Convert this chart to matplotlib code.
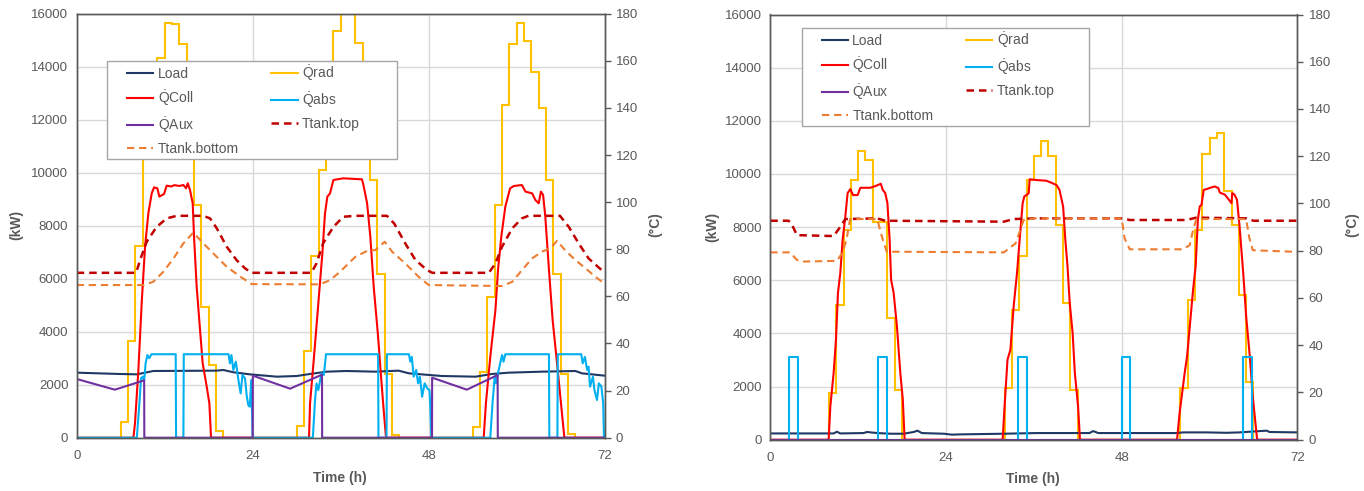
import numpy as np
import matplotlib.pyplot as plt
from matplotlib.lines import Line2D
from matplotlib.patches import Rectangle

plt.rcParams['font.family'] = 'Liberation Sans'
plt.rcParams['mathtext.fontset'] = 'custom'
plt.rcParams['mathtext.rm'] = 'Liberation Sans'
plt.rcParams['mathtext.it'] = 'Liberation Sans:italic'
plt.rcParams['mathtext.bf'] = 'Liberation Sans:bold'

W, H = 1364, 491
hours = np.arange(0, 73)

# ---------------- left chart ----------------
a_qrad = [0, 0, 0, 0, 0, 0, 580, 3660, 7240, 11200, 13300, 14340, 15650, 15600,
          14850, 12400, 8800, 4940, 2740, 250, 0, 0, 0, 0,
          0, 0, 0, 0, 0, 0, 430, 3280, 6870, 10100, 12800, 15350, 16300, 16300,
          14900, 12000, 9720, 6170, 2420, 100, 0, 0, 0, 0,
          0, 0, 0, 0, 0, 0, 390, 2480, 5300, 8780, 12560, 14850, 15650, 14960,
          13800, 12450, 9720, 6170, 2400, 150, 0, 0, 0, 0]

a_load_t = [0, 5.9, 8.2, 10.45, 19.1, 20.0, 21.4, 23.6, 27.3, 30.0, 31.8, 34.1, 36.8, 40.7,
            43.9, 45.3, 49.8, 54.4, 56.6, 58.9, 63.45, 68.0, 68.9, 72]
a_load = [2454, 2404, 2391, 2517, 2530, 2555, 2467, 2391, 2303, 2328, 2404, 2492, 2517, 2492,
          2530, 2429, 2328, 2303, 2404, 2454, 2492, 2517, 2429, 2341]

a_coll_t = [0, 7.73, 7.95, 8.41, 8.86, 9.32, 9.77, 10.23, 10.55, 11.0, 11.27, 11.91, 12.27,
            12.9, 13.3, 14.0, 14.55, 14.91, 15.14, 15.45, 15.82, 16.0, 16.36, 16.82, 17.18,
            17.73, 18.09, 18.32,
            31.68, 31.82, 32.36, 32.95, 33.5, 33.86, 34.18, 34.55, 35.0, 36.36, 38.9, 39.1,
            39.6, 40.04, 40.5, 41.1, 41.5, 41.86, 42.18,
            55.5, 55.8, 56.4, 57.1, 57.45, 57.9, 58.45, 59.1, 59.6, 60.7, 61.2, 62.1, 62.55,
            63.0, 63.3, 63.6, 63.9, 64.4, 64.9, 65.5, 65.95, 66.5, 72]
a_coll = [0, 0, 540, 2557, 5072, 7210, 8467, 9222, 9448, 9410, 9097, 9197, 9511,
          9480, 9530, 9500, 9536, 9410, 9600, 9348, 8845, 7587, 5700, 4065, 2807,
          1925, 1296, 0,
          0, 1296, 3057, 5072, 6960, 8467, 9097, 9222, 9725, 9788, 9750, 9536,
          8845, 7587, 5700, 3813, 2303, 1045, 0,
          0, 1296, 3057, 4820, 6330, 7587, 8720, 9410, 9498, 9536, 9285, 9222, 8970,
          8845, 9285, 9160, 8342, 6330, 4443, 2807, 1548, 0, 0]

a_abs_t = [0, 8.2, 8.55, 8.77, 9.0, 9.2, 9.4, 9.64, 9.9, 10.2, 13.5, 13.55, 14.55, 14.6,
           20.7, 20.9, 21.1, 21.36, 21.7, 22.05, 22.36, 22.6, 22.95, 23.2, 23.4, 23.6, 23.8, 24.0,
           32.2, 32.5, 32.7, 32.95, 33.2, 33.4, 33.7, 34.0, 41.1, 41.15, 42.25, 42.3,
           45.3, 45.5, 45.7, 45.95, 46.3, 46.55, 46.8, 47.1, 47.45, 47.8, 48.1, 48.2, 48.36,
           56.4, 56.7, 57.0, 57.2, 57.5, 57.8, 58.0, 58.2, 58.45, 64.4, 64.45, 65.55, 65.6,
           68.8, 69.0, 69.3, 69.6, 69.8, 70.0, 70.4, 70.6, 70.95, 71.2, 71.55, 71.8, 71.9, 72]
a_abs = [0, 0, 1296, 2240, 2303, 2152, 2807, 3120, 3000, 3150, 3150, 0, 0, 3150,
         3150, 2807, 3120, 2555, 2870, 2177, 1673, 2366, 2240, 1547, 1233, 1170, 2177, 0,
         0, 1422, 2052, 1800, 2177, 2430, 2370, 3150, 3150, 0, 0, 3150,
         3150, 2870, 3050, 2303, 2555, 2052, 2303, 1547, 2052, 1863, 1800, 1296, 0,
         0, 1296, 2303, 2052, 2500, 2870, 3120, 2870, 3150, 3150, 0, 0, 3150,
         3150, 2807, 3050, 2555, 2680, 1925, 2303, 1800, 1422, 2052, 1925, 1296, 0, 0]

a_aux_t = [0, 5.2, 9.2, 9.22, 24.0, 24.02, 29.1, 33.45, 33.47, 48.45, 48.47, 53.2, 57.4, 57.42, 72]
a_aux = [2215, 1812, 2164, 0, 0, 2341, 1850, 2379, 0, 0, 2265, 1812, 2366, 0, 0]

a_top_t = [0, 8.1, 8.64, 9.55, 10.9, 12.27, 13.64, 17.27, 18.18, 19.1, 20.45, 21.8, 22.95, 23.86,
           32.0, 32.7, 33.6, 35.0, 36.36, 38.0, 42.3, 43.3, 44.8, 46.2, 47.8, 48.5,
           56.2, 57.1, 58.0, 59.4, 60.7, 61.6, 65.9, 67.1, 68.45, 69.8, 71.6, 72]
a_top = [70.0, 70.0, 75.4, 83.2, 89.5, 93.1, 94.2, 94.2, 93.1, 88.9, 81.1, 75.4, 71.9, 70.0,
         70.0, 74.0, 82.5, 89.5, 93.8, 94.2, 94.2, 90.9, 82.5, 75.4, 71.1, 70.0,
         70.0, 74.0, 81.1, 88.9, 93.1, 94.2, 94.2, 89.5, 82.5, 76.1, 71.1, 70.3]

a_bot_t = [0, 9.1, 10.45, 11.8, 13.2, 14.55, 15.9, 17.05, 18.6, 20.45, 22.3, 23.86,
           33.2, 34.55, 35.9, 38.0, 39.8, 40.7, 42.0, 43.0, 44.8, 46.6, 48.0,
           58.0, 59.4, 60.7, 62.1, 63.45, 64.6, 65.5, 66.6, 68.0, 69.4, 70.7, 72]
a_bot = [64.8, 64.8, 66.2, 70.4, 76.1, 82.5, 87.1, 83.2, 78.3, 72.6, 68.4, 65.2,
         65.1, 66.9, 70.4, 76.8, 79.6, 79.6, 83.2, 79.0, 74.0, 68.4, 64.8,
         64.4, 66.2, 71.1, 76.1, 79.0, 80.4, 83.6, 79.6, 75.4, 71.9, 68.4, 65.3]

# ---------------- right chart ----------------
b_qrad = [0, 0, 0, 0, 0, 0, 0, 0, 1770, 5070, 7900, 9770, 10870, 10530, 8200, 8200,
          4570, 1870, 0, 0, 0, 0, 0, 0,
          0, 0, 0, 0, 0, 0, 0, 0, 1940, 4880, 6920, 9770, 10670, 11250, 10670, 8080,
          5130, 1880, 0, 0, 0, 0, 0, 0,
          0, 0, 0, 0, 0, 0, 0, 0, 1930, 5260, 7890, 10750, 11340, 11550, 9370, 8080,
          5440, 2180, 0, 0, 0, 0, 0, 0]

b_load_t = [0, 8.65, 9.1, 9.56, 12.75, 13.2, 14.6, 16.4, 18.2, 19.6, 20.1, 20.7, 23.7, 24.8,
            26.0, 31.9, 36.4, 43.6, 44.1, 44.8, 55.5, 56.4, 59.6, 62.3, 64.1, 67.8, 68.2, 72]
b_load = [236, 236, 300, 236, 250, 290, 250, 225, 225, 290, 340, 250, 225, 190,
          200, 225, 250, 250, 325, 250, 250, 275, 275, 260, 275, 340, 290, 275]

b_coll_t = [0, 7.97, 8.2, 8.65, 8.97, 9.24, 9.56, 9.88, 10.25, 10.56, 10.93, 11.3, 11.93,
            12.3, 13.66, 14.34, 15.1, 15.35, 15.7, 16.0, 16.3, 16.5, 16.85, 17.3, 17.76,
            18.1, 18.35,
            31.74, 32.0, 32.4, 32.8, 33.24, 33.7, 34.06, 34.47, 34.7, 35.06, 35.3, 35.43,
            36.4, 37.7, 38.4, 39.1, 39.5, 40.0, 40.3, 40.6, 40.9, 41.3, 41.6, 42.04, 42.3,
            55.56, 55.9, 56.3, 56.6, 56.93, 57.3, 57.75, 58.1, 58.4, 58.66, 58.9, 59.2,
            59.6, 60.0, 60.7, 61.2, 61.4, 62.1, 62.5, 63.0, 63.1, 63.4, 63.75, 64.1, 64.6,
            65.0, 65.5, 65.9, 66.5, 72]
b_coll = [0, 0, 1254, 2508, 3762, 5518, 6270, 7524, 8402, 9280, 9430, 9205, 9205,
          9480, 9480, 9543, 9630, 9405, 9280, 8900, 7524, 6020, 5518, 4263, 2508,
          1505, 0,
          0, 1254, 3010, 3386, 5016, 6270, 7524, 8900, 9155, 9220, 9280, 9800,
          9770, 9745, 9670, 9580, 9400, 8770, 7524, 6520, 5140, 4010, 2508, 1254, 0,
          0, 980, 1855, 2508, 3135, 4263, 5643, 6520, 8276, 8776, 8840, 9400,
          9430, 9470, 9530, 9470, 9300, 9220, 9080, 8900, 9280, 9220, 9030, 8030, 6270,
          4640, 3135, 1630, 0, 0]

b_abs_t = [0, 2.6, 2.6, 3.85, 3.85, 14.7, 14.7, 16.0, 16.0, 33.9, 33.9, 35.06, 35.06,
           48.0, 48.0, 49.1, 49.1, 64.6, 64.6, 65.85, 65.85, 72]
b_abs = [0, 0, 3130, 3130, 0, 0, 3130, 3130, 0, 0, 3130, 3130, 0,
         0, 3130, 3130, 0, 0, 3130, 3130, 0, 0]

b_aux_t = [0, 72]
b_aux = [0, 0]

b_top_t = [0, 2.5, 2.96, 3.64, 8.65, 9.33, 10.25, 14.6, 15.7, 31.9, 33.2, 36.0, 48.2, 49.1,
           56.8, 58.2, 65.0, 66.0, 72]
b_top = [92.7, 92.7, 91.0, 86.6, 86.2, 89.1, 93.4, 93.7, 92.7, 92.3, 93.4, 93.7, 93.7, 93.0,
         93.0, 94.0, 93.7, 92.7, 92.7]

b_bot_t = [0, 2.7, 3.64, 4.3, 9.1, 9.8, 10.4, 10.9, 14.6, 15.25, 15.9, 31.9, 33.5, 34.15,
           34.6, 36.0, 48.0, 48.4, 49.1, 56.4, 57.3, 57.75, 58.2, 65.0, 65.4, 65.9, 72]
b_bot = [79.3, 79.3, 76.1, 75.4, 75.7, 78.9, 84.5, 93.4, 93.4, 85.9, 79.6, 79.3, 83.1, 88.8,
         93.0, 93.7, 93.7, 85.2, 80.6, 80.6, 82.4, 88.8, 93.4, 93.4, 85.9, 80.2, 79.5]

labels = ['Load', r'$\dot{\mathrm{Q}}$Coll', r'$\dot{\mathrm{Q}}$Aux', 'Ttank.bottom',
          r'$\dot{\mathrm{Q}}$rad', r'$\dot{\mathrm{Q}}$abs', 'Ttank.top']

C_LOAD, C_RAD, C_COLL = '#1F3864', '#FFC000', '#FF0000'
C_ABS, C_AUX = '#00B0F0', '#7030A0'
C_TOP, C_BOT = '#C00000', '#ED7D31'
GREY = '#595959'
LW = 1.5


def fx(px):
    return px / W


def fy(py):
    return 1 - py / H


def panel(rect, qrad, load_t, load, coll_t, coll, abs_t, qabs, aux_t, aux,
          top_t, top, bot_t, bot):
    ax = fig.add_axes(rect)
    ax.plot(load_t, load, color=C_LOAD, lw=LW)
    ax.stairs(qrad, hours, baseline=None, color=C_RAD, lw=LW)
    ax.plot(coll_t, coll, color=C_COLL, lw=LW)
    ax.plot(abs_t, qabs, color=C_ABS, lw=LW)
    ax.plot(aux_t, aux, color=C_AUX, lw=LW)
    ax.set_xlim(0, 72)
    ax.set_ylim(0, 16000)
    ax.set_xticks([0, 24, 48, 72])
    ax.set_yticks(range(0, 16001, 2000))
    ax.grid(color='#D9D9D9', lw=1)
    ax.set_axisbelow(True)
    ax.tick_params(axis='x', length=0, pad=9, labelsize=9.5, labelcolor=GREY)
    ax.tick_params(axis='y', length=0, pad=6, labelsize=9.5, labelcolor=GREY)
    for s in ax.spines.values():
        s.set_color(GREY)
        s.set_linewidth(1)

    ax2 = ax.twinx()
    ax2.plot(top_t, top, color=C_TOP, lw=1.8, dashes=(3, 2))
    ax2.plot(bot_t, bot, color=C_BOT, lw=1.5, dashes=(3.5, 2.3))
    ax2.set_ylim(0, 180)
    ax2.set_yticks(range(0, 181, 20))
    ax2.tick_params(axis='y', length=4, width=1, color=GREY, pad=4,
                    labelsize=9.5, labelcolor=GREY)
    for s in ax2.spines.values():
        s.set_color(GREY)
        s.set_linewidth(1)
    return ax


def legend(frame, first):
    x0, y0, x1, y1 = frame
    fig.add_artist(Rectangle((fx(x0), fy(y1)), fx(x1) - fx(x0), fy(y0) - fy(y1),
                             transform=fig.transFigure, facecolor='white',
                             edgecolor='#A6A6A6', lw=1, zorder=3))
    handles = [Line2D([], [], color=C_LOAD, lw=LW),
               Line2D([], [], color=C_COLL, lw=LW),
               Line2D([], [], color=C_AUX, lw=LW),
               Line2D([], [], color=C_BOT, lw=1.5, dashes=(3.5, 2.3)),
               Line2D([], [], color=C_RAD, lw=LW),
               Line2D([], [], color=C_ABS, lw=LW),
               Line2D([], [], color=C_TOP, lw=1.8, dashes=(3, 2))]
    lg = fig.legend(handles, labels, ncol=2, loc='upper left',
                    bbox_to_anchor=(fx(first[0]), fy(first[1])), frameon=False,
                    fontsize=10, handlelength=1.9, handletextpad=0.3,
                    columnspacing=2.35, labelspacing=0.52, borderpad=0, borderaxespad=0)
    for t in lg.get_texts():
        t.set_color(GREY)
    lg.set_zorder(4)


fig = plt.figure(figsize=(W / 100, H / 100), dpi=100)

panel([fx(76.7), fy(437.7), fx(528), 424 / H], a_qrad, a_load_t, a_load, a_coll_t, a_coll,
      a_abs_t, a_abs, a_aux_t, a_aux, a_top_t, a_top, a_bot_t, a_bot)
panel([fx(770.3), fy(439.7), fx(527.1), 425.2 / H], b_qrad, b_load_t, b_load, b_coll_t, b_coll,
      b_abs_t, b_abs, b_aux_t, b_aux, b_top_t, b_top, b_bot_t, b_bot)

legend((107.3, 61, 396.7, 159), (127, 63))
legend((802.3, 28.3, 1089.3, 126), (821.7, 30.5))

kw = dict(fontsize=10, fontweight='bold', color=GREY, ha='center', va='center')
fig.text(fx(16), fy(225), '(kW)', rotation=90, **kw)
fig.text(fx(655), fy(225), '(°C)', rotation=90, **kw)
fig.text(fx(340), fy(478), 'Time (h)', **kw)
fig.text(fx(712), fy(227), '(kW)', rotation=90, **kw)
fig.text(fx(1352), fy(225), '(°C)', rotation=90, **kw)
fig.text(fx(1033), fy(479), 'Time (h)', **kw)

fig.savefig('out.png', dpi=100)
